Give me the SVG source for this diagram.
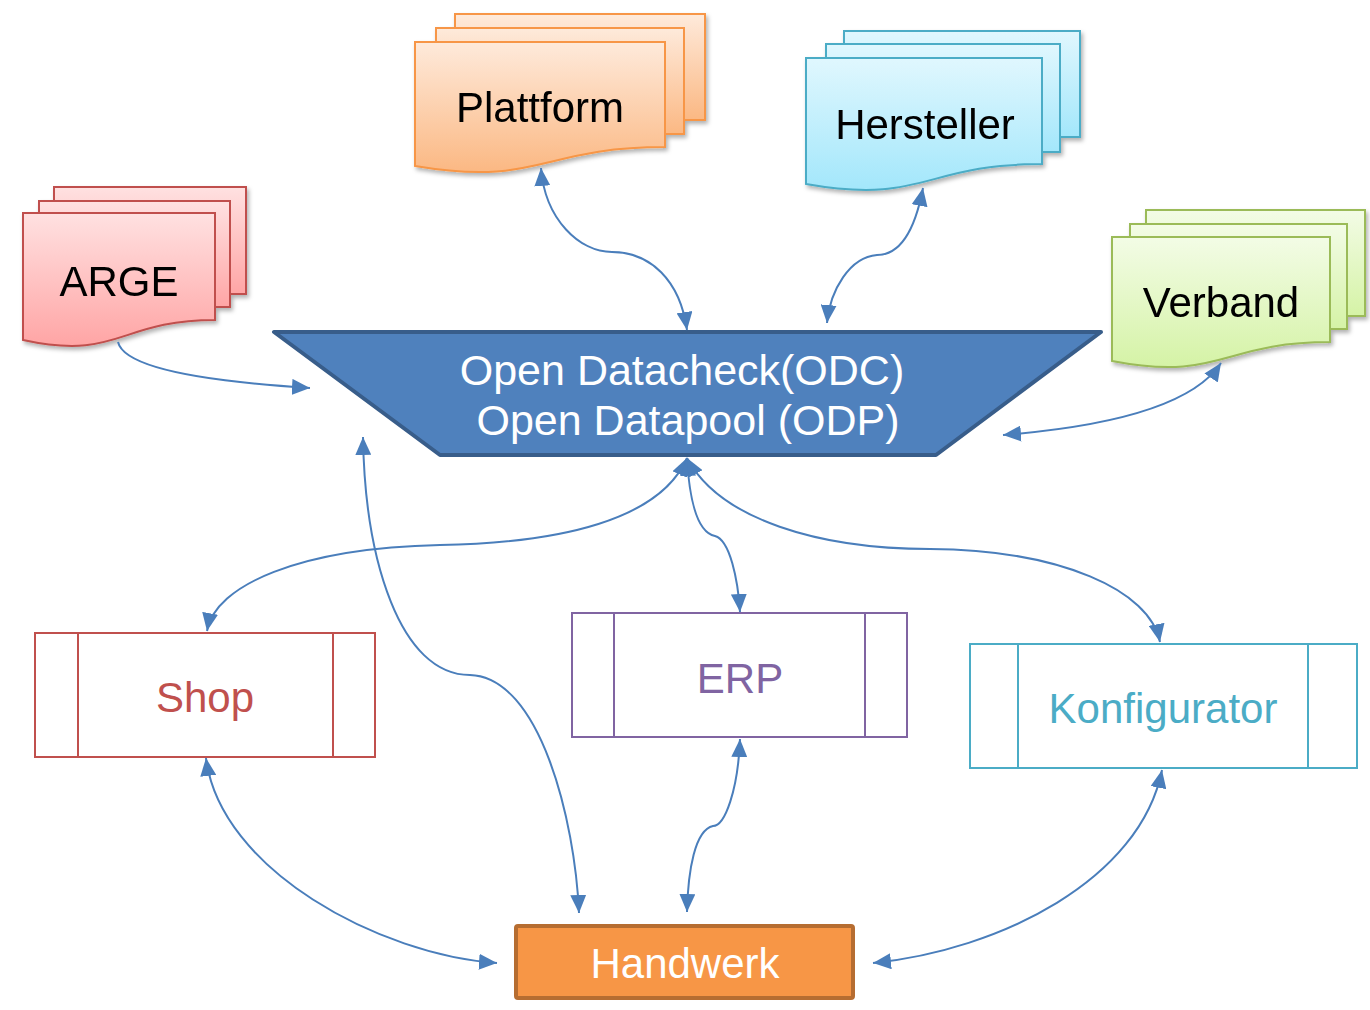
<svg xmlns="http://www.w3.org/2000/svg" width="1370" height="1010" viewBox="0 0 1370 1010">
<style>
text{font-family:"Liberation Sans",Arial,sans-serif;font-size:42px;text-anchor:middle}
.lbl{fill:#000}
.odc{fill:#fff;font-size:43px}
.conn path{fill:none;stroke:#4A7EBB;stroke-width:2}
.proc{fill:#fff;stroke-width:2}
</style>
<defs>
<marker id="ah" viewBox="0 0 18 16" refX="18" refY="8" markerWidth="18" markerHeight="16" markerUnits="userSpaceOnUse" orient="auto-start-reverse">
<path d="M0,0 L18,8 L0,16 z" fill="#4A7EBB"/>
</marker>
<filter id="sh" x="-10%" y="-10%" width="125%" height="130%">
<feDropShadow dx="2" dy="3" stdDeviation="2" flood-color="#000" flood-opacity="0.3"/>
</filter>
<linearGradient id="gR" x1="0" y1="0" x2="0" y2="1"><stop offset="0" stop-color="#FFE1E1"/><stop offset="1" stop-color="#FFA5A5"/></linearGradient>
<linearGradient id="gO" x1="0" y1="0" x2="0" y2="1"><stop offset="0" stop-color="#FEEADB"/><stop offset="1" stop-color="#FBB883"/></linearGradient>
<linearGradient id="gB" x1="0" y1="0" x2="0" y2="1"><stop offset="0" stop-color="#E0F7FE"/><stop offset="1" stop-color="#A3E7FB"/></linearGradient>
<linearGradient id="gG" x1="0" y1="0" x2="0" y2="1"><stop offset="0" stop-color="#F3FCE6"/><stop offset="1" stop-color="#D5F3A6"/></linearGradient>
</defs>

<g id="ARGE" filter="url(#sh)">
<rect x="54" y="187" width="192" height="107" fill="url(#gR)" stroke="#C0504D" stroke-width="2"/>
<rect x="39" y="201" width="191" height="106" fill="url(#gR)" stroke="#C0504D" stroke-width="2"/>
<path d="M23,213 H215 V320 C119,320 119,361 23,340 Z" fill="url(#gR)" stroke="#C0504D" stroke-width="2"/>
<text x="119" y="296" class="lbl">ARGE</text>
</g>

<g id="Plattform" filter="url(#sh)">
<rect x="455" y="14" width="250" height="106" fill="url(#gO)" stroke="#F79646" stroke-width="2"/>
<rect x="436" y="28" width="248" height="106" fill="url(#gO)" stroke="#F79646" stroke-width="2"/>
<path d="M415,42 H665 V147 C540,147 540,187 415,166 Z" fill="url(#gO)" stroke="#F79646" stroke-width="2"/>
<text x="540" y="122" class="lbl">Plattform</text>
</g>

<g id="Hersteller" filter="url(#sh)">
<rect x="844" y="31" width="236" height="106" fill="url(#gB)" stroke="#4BACC6" stroke-width="2"/>
<rect x="826" y="44" width="234" height="108" fill="url(#gB)" stroke="#4BACC6" stroke-width="2"/>
<path d="M806,58 H1042 V164 C924,164 924,205 806,184 Z" fill="url(#gB)" stroke="#4BACC6" stroke-width="2"/>
<text x="925" y="139" class="lbl">Hersteller</text>
</g>

<g id="Verband" filter="url(#sh)">
<rect x="1146" y="210" width="219" height="106" fill="url(#gG)" stroke="#9BBB59" stroke-width="2"/>
<rect x="1130" y="224" width="217" height="105" fill="url(#gG)" stroke="#9BBB59" stroke-width="2"/>
<path d="M1112,237 H1330 V342 C1221,342 1221,382 1112,361 Z" fill="url(#gG)" stroke="#9BBB59" stroke-width="2"/>
<text x="1221" y="317" class="lbl">Verband</text>
</g>

<g id="ODC">
<path d="M274,332 H1101 L936,455 H440 Z" fill="#4F81BD" stroke="#385D8A" stroke-width="4" stroke-linejoin="round"/>
<text x="682" y="385" class="odc">Open Datacheck(ODC)</text>
<text x="688" y="435" class="odc">Open Datapool (ODP)</text>
</g>

<g id="Shop">
<rect x="35" y="633" width="340" height="124" class="proc" stroke="#C0504D"/>
<line x1="78" y1="633" x2="78" y2="757" stroke="#C0504D" stroke-width="2"/>
<line x1="333" y1="633" x2="333" y2="757" stroke="#C0504D" stroke-width="2"/>
<text x="205" y="712" fill="#C0504D">Shop</text>
</g>

<g id="ERP">
<rect x="572" y="613" width="335" height="124" class="proc" stroke="#8064A2"/>
<line x1="614" y1="613" x2="614" y2="737" stroke="#8064A2" stroke-width="2"/>
<line x1="865" y1="613" x2="865" y2="737" stroke="#8064A2" stroke-width="2"/>
<text x="740" y="693" fill="#8064A2">ERP</text>
</g>

<g id="Konfigurator">
<rect x="970" y="644" width="387" height="124" class="proc" stroke="#4BACC6"/>
<line x1="1018" y1="644" x2="1018" y2="768" stroke="#4BACC6" stroke-width="2"/>
<line x1="1308" y1="644" x2="1308" y2="768" stroke="#4BACC6" stroke-width="2"/>
<text x="1163" y="723" fill="#4BACC6">Konfigurator</text>
</g>

<g id="Handwerk">
<rect x="516" y="926" width="337" height="72" fill="#F79646" stroke="#B66D31" stroke-width="4" rx="2"/>
<text x="685" y="978" fill="#fff">Handwerk</text>
</g>

<g class="conn" id="connectors">
<path d="M118,342 C125,372 230,383 310,388" marker-end="url(#ah)"/>
<path d="M541,168 C545,220 580,252 612,252 C650,252 680,280 687,330" marker-start="url(#ah)" marker-end="url(#ah)"/>
<path d="M923,188 C915,230 900,255 877,255 C850,257 830,290 827,323" marker-start="url(#ah)" marker-end="url(#ah)"/>
<path d="M1221,363 C1190,410 1090,428 1003,435" marker-start="url(#ah)" marker-end="url(#ah)"/>
<path d="M687,458 C660,520 560,543 440,545 C300,548 215,585 207,631" marker-start="url(#ah)" marker-end="url(#ah)"/>
<path d="M687,458 C690,510 700,533 715,536 C730,540 738,580 740,612" marker-start="url(#ah)" marker-end="url(#ah)"/>
<path d="M687,458 C720,520 820,549 930,549 C1060,550 1150,590 1160,642" marker-start="url(#ah)" marker-end="url(#ah)"/>
<path d="M363,437 C365,560 400,675 470,675 C540,677 575,820 579,913" marker-start="url(#ah)" marker-end="url(#ah)"/>
<path d="M206,758 C220,870 380,955 497,963" marker-start="url(#ah)" marker-end="url(#ah)"/>
<path d="M740,739 C738,790 725,826 713,826 C695,830 688,870 687,912" marker-start="url(#ah)" marker-end="url(#ah)"/>
<path d="M1162,770 C1140,880 1000,950 873,963" marker-start="url(#ah)" marker-end="url(#ah)"/>
</g>
</svg>
